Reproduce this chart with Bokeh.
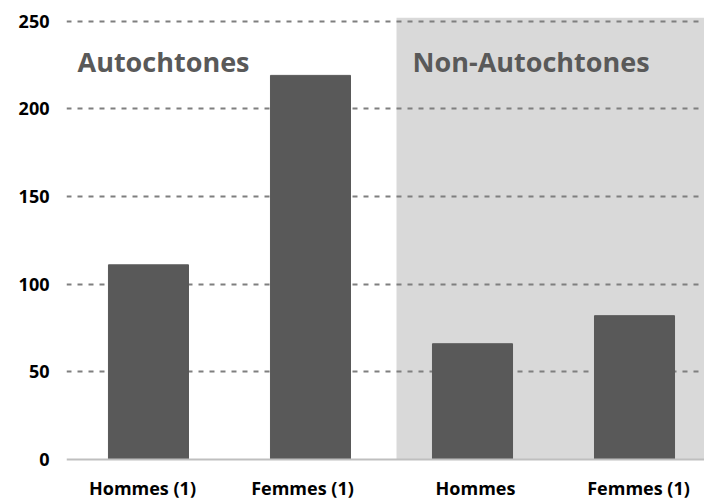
from bokeh.plotting import figure
from bokeh.models import Range1d, FixedTicker, BoxAnnotation, ColumnDataSource, Span
from bokeh.core.properties import value
from bokeh.embed import file_html
from bokeh.resources import INLINE

# Data
categories = ["Hommes (1)", "Femmes (1)", "Hommes", "Femmes (1)"]
values = [111, 219, 66, 82]
groups = ["Autochtones", "Non-Autochtones"]
group_start = [0, 2]  # index of first category of each group
y_ticks = [0, 50, 100, 150, 200, 250]

# label nudges (pixels), style only
label_dx = [-6, -8, 3, 4]

xs = list(range(len(categories)))

p = figure(width=704, height=499, output_backend="svg", toolbar_location=None,
           x_axis_type=None,
           x_range=Range1d(-0.506, 3.432), y_range=Range1d(-22.8, 252),
           min_border_left=66, min_border_right=0, min_border_top=17, min_border_bottom=0)
p.outline_line_color = None
p.background_fill_color = "white"

# shaded region for second group
box = BoxAnnotation(left=group_start[1] - 0.469, bottom=0, fill_color="#d9d9d9", fill_alpha=1.0,
                    line_color=None, level="image")
p.add_layout(box)

src = ColumnDataSource(dict(x=xs, top=values))
p.vbar(x="x", top="top", width=0.494, bottom=0, source=src, color="#595959")

# baseline axis line at zero
p.add_layout(Span(location=0, dimension="width", line_color="#bfbfbf", line_width=2))

# category labels
lab = ColumnDataSource(dict(x=xs, y=[-16.0] * len(xs), text=categories, dx=label_dx))
p.text(x="x", y="y", text="text", x_offset="dx", source=lab,
       text_font=value("Open Sans"), text_font_style="bold", text_font_size="18px",
       text_color="black", text_align="center", text_baseline="middle")

# group labels
p.text(x=[group_start[0] - 0.438, group_start[1] - 0.37], y=[227, 227],
       text=groups, text_font=value("Open Sans"), text_font_style="bold",
       text_font_size="27px", text_color="#595959", text_baseline="alphabetic",
       text_align="left")

p.yaxis.ticker = FixedTicker(ticks=y_ticks)
p.yaxis.axis_line_color = None
p.yaxis.major_tick_line_color = None
p.yaxis.minor_tick_line_color = None
p.yaxis.major_tick_out = 0
p.yaxis.major_label_text_font = "Open Sans"
p.yaxis.major_label_text_font_style = "bold"
p.yaxis.major_label_text_font_size = "18px"
p.yaxis.major_label_text_color = "black"
p.yaxis.major_label_standoff = 17

p.ygrid.ticker = FixedTicker(ticks=y_ticks[1:])
p.ygrid.grid_line_color = "#7f7f7f"
p.ygrid.grid_line_width = 2
p.ygrid.grid_line_dash = "5 6"

open("out.html", "w").write(file_html(p, INLINE))
